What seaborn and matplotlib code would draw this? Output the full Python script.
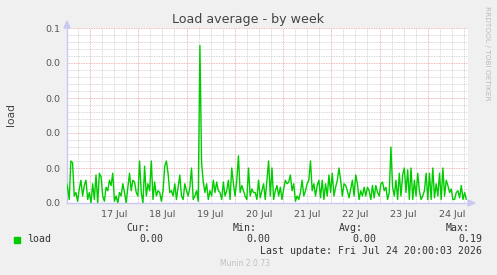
import numpy as np
import pandas as pd
import seaborn as sns
import matplotlib
matplotlib.use("Agg")
import matplotlib.pyplot as plt
import matplotlib.dates as mdates
from matplotlib.ticker import FixedLocator, FixedFormatter, MultipleLocator

# load values, one every 50 minutes from 16 Jul 12:00
load_values = [
    0.013, 0.009, 0.002, 0.024, 0.023, 0.004, 0.006, 0.001, 0.008, 0.013,
    0.004, 0.010, 0.013, 0.002, 0.006, 0.000, 0.011, 0.002, 0.016, 0.000,
    0.017, 0.015, 0.004, 0.001, 0.009, 0.007, 0.013, 0.010, 0.017, 0.001,
    0.004, 0.000, 0.006, 0.004, 0.011, 0.006, 0.000, 0.009, 0.017, 0.007,
    0.013, 0.012, 0.006, 0.004, 0.024, 0.006, 0.000, 0.021, 0.004, 0.011,
    0.007, 0.024, 0.002, 0.012, 0.004, 0.007, 0.006, 0.001, 0.007, 0.021,
    0.024, 0.017, 0.006, 0.007, 0.004, 0.011, 0.002, 0.009, 0.016, 0.004,
    0.002, 0.011, 0.007, 0.004, 0.009, 0.020, 0.002, 0.004, 0.007, 0.001,
    0.090, 0.023, 0.012, 0.006, 0.011, 0.002, 0.007, 0.004, 0.013, 0.006,
    0.012, 0.007, 0.006, 0.002, 0.012, 0.004, 0.007, 0.013, 0.002, 0.020,
    0.011, 0.004, 0.013, 0.027, 0.006, 0.010, 0.007, 0.004, 0.002, 0.020,
    0.004, 0.008, 0.006, 0.006, 0.002, 0.013, 0.003, 0.007, 0.011, 0.002,
    0.013, 0.024, 0.004, 0.020, 0.002, 0.007, 0.010, 0.004, 0.009, 0.002,
    0.008, 0.013, 0.011, 0.012, 0.016, 0.007, 0.011, 0.001, 0.004, 0.002,
    0.006, 0.013, 0.004, 0.007, 0.011, 0.013, 0.024, 0.007, 0.011, 0.004,
    0.010, 0.013, 0.003, 0.013, 0.002, 0.011, 0.004, 0.016, 0.006, 0.017,
    0.004, 0.009, 0.013, 0.020, 0.013, 0.004, 0.011, 0.010, 0.007, 0.003,
    0.008, 0.013, 0.004, 0.016, 0.011, 0.002, 0.007, 0.004, 0.009, 0.004,
    0.009, 0.007, 0.002, 0.010, 0.003, 0.010, 0.006, 0.004, 0.011, 0.012,
    0.007, 0.009, 0.002, 0.006, 0.032, 0.009, 0.004, 0.013, 0.002, 0.017,
    0.004, 0.016, 0.020, 0.006, 0.019, 0.002, 0.020, 0.002, 0.013, 0.004,
    0.017, 0.007, 0.002, 0.004, 0.007, 0.017, 0.002, 0.017, 0.002, 0.020,
    0.003, 0.011, 0.004, 0.017, 0.002, 0.020, 0.004, 0.013, 0.010, 0.006,
    0.008, 0.002, 0.002, 0.006, 0.007, 0.003, 0.010, 0.002, 0.006, 0.002,
]
start_time = "2026-07-16 12:00"
end_time = "2026-07-24 20:00"
x_start = "2026-07-16 12:34"

ytick_values = [0.0, 0.02, 0.04, 0.06, 0.08, 0.1]
ytick_labels = ["0.0", "0.0", "0.0", "0.0", "0.0", "0.1"]
day_labels = ["17 Jul", "18 Jul", "19 Jul", "20 Jul", "21 Jul", "22 Jul", "23 Jul", "24 Jul"]

legend_heads = ["Cur:", "Min:", "Avg:", "Max:"]
legend_vals = ["0.00", "0.00", "0.00", "0.19"]
last_update = "Last update: Fri Jul 24 20:00:03 2026"

df = pd.DataFrame({
    "time": pd.date_range(start_time, periods=len(load_values), freq="50min"),
    "load": load_values,
})

sns.set_theme(style="white")
plt.rcParams["font.family"] = ["DejaVu Sans"]

BG = "#F0F0F0"
GREEN = "#00CC00"
fig = plt.figure(figsize=(4.97, 2.75), dpi=100, facecolor=BG)
ax = fig.add_axes([67 / 497, 1 - 203 / 275, 401 / 497, 175 / 275])
ax.set_facecolor("white")

sns.lineplot(data=df, x="time", y="load", ax=ax, color=GREEN, linewidth=1.0, zorder=5)

ax.set_xlim(pd.Timestamp(x_start), pd.Timestamp(end_time))
ax.set_ylim(0, 0.1)

# grid: minor grey, major red, all dotted
ax.yaxis.set_minor_locator(MultipleLocator(0.004))
ax.yaxis.set_major_locator(FixedLocator(ytick_values))
ax.yaxis.set_major_formatter(FixedFormatter(ytick_labels))
ax.xaxis.set_minor_locator(mdates.HourLocator(byhour=[6, 12, 18]))
ax.xaxis.set_major_locator(mdates.DayLocator())
ax.xaxis.set_major_formatter(plt.NullFormatter())
ax.grid(which="minor", color="#CCCCCC", linestyle=(0, (1, 1)), linewidth=0.6)
ax.grid(which="major", color="#E8A0A0", linestyle=(0, (1, 1)), linewidth=0.6)
ax.set_axisbelow(True)

# day labels at noon
noons = pd.date_range("2026-07-17 12:00", periods=len(day_labels), freq="D")
for t, lab in zip(noons, day_labels):
    ax.text(mdates.date2num(t), -0.004, lab, ha="center", va="top",
            fontsize=6.8, color="#555555")

ax.tick_params(axis="y", which="major", labelsize=6.8, labelcolor="#555555",
               length=2, color="#C8C8E8", pad=3)
ax.tick_params(axis="x", which="both", length=0)
ax.tick_params(axis="y", which="minor", length=0)

for side in ["top", "right"]:
    ax.spines[side].set_visible(False)
for side in ["left", "bottom"]:
    ax.spines[side].set_color("#C8C8F0")
    ax.spines[side].set_linewidth(1.0)

ax.set_xlabel("")
ax.set_ylabel("")

# axis arrows
fig.patches.append(plt.Polygon([[64 / 497, 1 - 28 / 275], [70 / 497, 1 - 28 / 275], [67 / 497, 1 - 21 / 275]],
                               closed=True, transform=fig.transFigure, color="#C8C8F0"))
fig.patches.append(plt.Polygon([[468 / 497, 1 - 200 / 275], [468 / 497, 1 - 206 / 275], [475 / 497, 1 - 203 / 275]],
                               closed=True, transform=fig.transFigure, color="#C8C8F0"))

fig.text(248 / 497, 1 - 20 / 275, "Load average - by week", ha="center", va="center",
         fontsize=9.1, color="#444444")
fig.text(11 / 497, 1 - 115 / 275, "load", ha="center", va="center", rotation=90,
         fontsize=7.7, color="#444444")
fig.text(487 / 497, 1 - 6 / 275, "RRDTOOL / TOBI OETIKER", ha="center", va="top", rotation=270,
         fontsize=5.3, color="#BBBBBB")

mono = dict(family="DejaVu Sans Mono", fontsize=7.1, color="#333333")
fig.patches.append(plt.Rectangle((14 / 497, 1 - 243 / 275), 6 / 497, 6 / 275,
                                 transform=fig.transFigure, color=GREEN))
fig.text(27 / 497, 1 - 239 / 275, "load", ha="left", va="center", **mono)
head_right = [150, 257, 363, 470]
val_right = [163, 270, 376, 482]
for h, v, hx, vx in zip(legend_heads, legend_vals, head_right, val_right):
    fig.text(hx / 497, 1 - 228 / 275, h, ha="right", va="center", **mono)
    fig.text(vx / 497, 1 - 239 / 275, v, ha="right", va="center", **mono)
fig.text(482 / 497, 1 - 251 / 275, last_update, ha="right", va="center", **mono)
fig.text(245 / 497, 1 - 264 / 275, "Munin 2.0.73", ha="center", va="center",
         fontsize=5.5, color="#C0C0C0")

fig.savefig("out.png", dpi=100, facecolor=BG)
